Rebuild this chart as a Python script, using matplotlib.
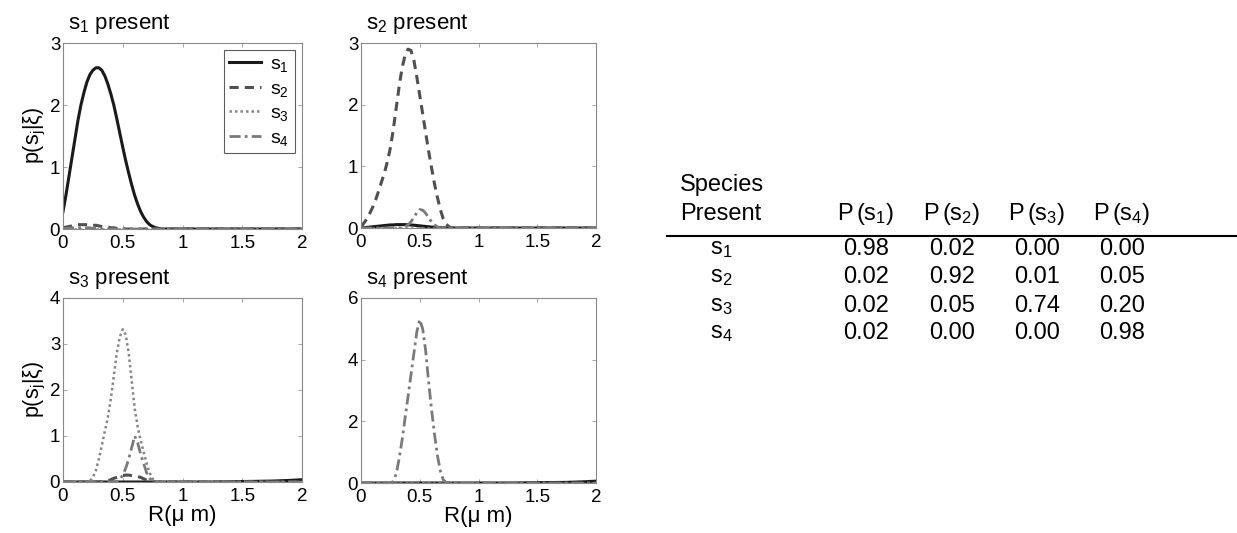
import matplotlib
matplotlib.use("Agg")
import matplotlib.pyplot as plt

plt.rcParams['font.family'] = ['Liberation Sans', 'DejaVu Sans']
plt.rcParams['mathtext.fontset'] = 'custom'
plt.rcParams['mathtext.rm'] = 'Liberation Sans'
plt.rcParams['mathtext.it'] = 'Liberation Sans:italic'

# radius grid (um): fine steps up to 1, coarse tail to 2
R = [round(0.025 * i, 3) for i in range(41)] + [1.25, 1.5, 1.75, 1.9, 2.0]

# s1 present
p1_s1 = [0.28, 0.55, 0.85, 1.15, 1.45, 1.75, 2.0, 2.2, 2.37, 2.49, 2.56, 2.6, 2.6,
         2.56, 2.47, 2.34, 2.18, 2.0, 1.78, 1.55, 1.32, 1.1, 0.9, 0.71, 0.54, 0.4,
         0.28, 0.19, 0.12, 0.07, 0.04, 0.02, 0.01] + [0.0] * 13
p1_s2 = [0.02, 0.03, 0.04, 0.05, 0.06, 0.07, 0.07, 0.07, 0.07, 0.07, 0.06, 0.06,
         0.05, 0.04, 0.03, 0.03, 0.02, 0.02, 0.01, 0.01, 0.01] + [0.0] * 25
p1_s3 = [0.0] * 46
p1_s4 = [0.0, 0.01, 0.01, 0.02, 0.02, 0.02, 0.02, 0.02, 0.02, 0.02, 0.01, 0.01,
         0.01] + [0.0] * 33

# s2 present
p2_s1 = [0.0, 0.005, 0.01, 0.015, 0.02, 0.025, 0.03, 0.035, 0.04, 0.045, 0.05, 0.05,
         0.055, 0.055, 0.055, 0.055, 0.05, 0.05, 0.045, 0.04, 0.035, 0.03, 0.025,
         0.02, 0.015, 0.01, 0.007, 0.004, 0.002] + [0.0] * 17
p2_s2 = [0.02, 0.08, 0.15, 0.24, 0.34, 0.46, 0.6, 0.75, 0.9, 1.08, 1.3, 1.6, 1.95,
         2.3, 2.6, 2.8, 2.9, 2.88, 2.72, 2.45, 2.15, 1.85, 1.55, 1.25, 0.98, 0.72,
         0.5, 0.3, 0.15, 0.06, 0.02, 0.0] + [0.0] * 14
p2_s3 = [0.0] * 46
p2_s4 = [0.0] * 14 + [0.0, 0.02, 0.05, 0.1, 0.17, 0.25, 0.3, 0.29, 0.24, 0.17, 0.1,
                      0.05, 0.02] + [0.0] * 19

# s3 present
p3_s1 = [0.0] * 41 + [0.0, 0.01, 0.02, 0.035, 0.05]
p3_s2 = [0.0] * 14 + [0.0, 0.02, 0.05, 0.08, 0.1, 0.12, 0.14, 0.15, 0.15, 0.14, 0.13,
                      0.12, 0.1, 0.07, 0.04, 0.02, 0.0] + [0.0] * 15
p3_s3 = [0.0] * 9 + [0.02, 0.1, 0.25, 0.5, 0.8, 1.1, 1.4, 1.8, 2.3, 2.8, 3.15, 3.32,
                     3.2, 2.8, 2.2, 1.6, 1.2, 0.9, 0.65, 0.4, 0.2, 0.07, 0.02,
                     0.0] + [0.0] * 13
p3_s4 = [0.0] * 18 + [0.0, 0.05, 0.15, 0.3, 0.5, 0.75, 1.0, 0.85, 0.6, 0.4, 0.2, 0.08,
                      0.02, 0.0] + [0.0] * 14

# s4 present
p4_s1 = [0.0] * 41 + [0.0, 0.01, 0.02, 0.04, 0.06]
p4_s2 = [0.0] * 46
p4_s3 = [0.0] * 46
p4_s4 = [0.0] * 10 + [0.0, 0.05, 0.3, 0.8, 1.4, 2.1, 2.8, 3.5, 4.2, 4.9, 5.3, 5.0,
                      4.3, 3.3, 2.4, 1.6, 0.9, 0.4, 0.1, 0.02, 0.0] + [0.0] * 15

panels = [
    ("s$_1$ present", [p1_s1, p1_s2, p1_s3, p1_s4], 3, [0, 1, 2, 3]),
    ("s$_2$ present", [p2_s1, p2_s2, p2_s3, p2_s4], 3, [0, 1, 2, 3]),
    ("s$_3$ present", [p3_s1, p3_s2, p3_s3, p3_s4], 4, [0, 1, 2, 3, 4]),
    ("s$_4$ present", [p4_s1, p4_s2, p4_s3, p4_s4], 6, [0, 2, 4, 6]),
]

# confusion table
species = ["s$_1$", "s$_2$", "s$_3$", "s$_4$"]
col_heads = ["P$\\,$(s$_1$)", "P$\\,$(s$_2$)", "P$\\,$(s$_3$)", "P$\\,$(s$_4$)"]
probs = [
    [0.98, 0.02, 0.00, 0.00],
    [0.02, 0.92, 0.01, 0.05],
    [0.02, 0.05, 0.74, 0.20],
    [0.02, 0.00, 0.00, 0.98],
]

styles = [
    dict(color='#1a1a1a', ls='-', lw=2.2),
    dict(color='#505050', ls=(0, (3, 2)), lw=2.2),
    dict(color='#858585', ls=(0, (1, 1.2)), lw=1.8),
    dict(color='#7a7a7a', ls=(0, (4, 1.5, 1, 1.5)), lw=2.0),
]
labels = ["s$_1$", "s$_2$", "s$_3$", "s$_4$"]

W, H = 1237, 533
fig = plt.figure(figsize=(W / 100, H / 100), dpi=100)

boxes = [(63, 43, 302, 229), (361, 43, 596, 228),
         (63, 298, 302, 482), (361, 298, 596, 483)]

for i, (title, curves, ymax, yt) in enumerate(panels):
    l, t, r, b = boxes[i]
    ax = fig.add_axes([l / W, 1 - b / H, (r - l) / W, (b - t) / H])
    for y, st, lab in zip(curves, styles, labels):
        ax.plot(R, y, label=lab, **st)
    ax.set_xlim(0, 2)
    ax.set_ylim(0, ymax)
    ax.set_xticks([0, 0.5, 1, 1.5, 2])
    ax.set_xticklabels(["0", "0.5", "1", "1.5", "2"])
    ax.set_yticks(yt)
    ax.tick_params(direction='in', top=True, right=True, labelsize=13.5,
                   length=3, width=0.6, color='#999999')
    ax.tick_params(axis='x', pad=4)
    ax.tick_params(axis='y', pad=2)
    for s in ax.spines.values():
        s.set_color('#888888')
        s.set_linewidth(0.8)
    ax.text(0.02, 1.04, title, transform=ax.transAxes, fontsize=16,
            ha='left', va='bottom')
    if i in (0, 2):
        ax.set_ylabel("p(s$_\\mathrm{j}$|ξ)", fontsize=15.5, labelpad=1)
    if i in (2, 3):
        ax.set_xlabel("R(μ m)", fontsize=16, labelpad=0)
    if i == 0:
        leg = ax.legend(loc='upper right', fontsize=14, handlelength=1.6,
                        borderaxespad=0.35, fancybox=False, labelspacing=0.3,
                        borderpad=0.3, handletextpad=0.5)
        leg.get_frame().set_edgecolor('#333333')
        leg.get_frame().set_linewidth(0.8)

# table drawn as figure text
col_x = [866, 952, 1037, 1122]
row_y = [249, 277, 306, 333]
fs = 17
fig.text(680 / W, 1 - 185 / H, "Species", fontsize=fs, ha='left', va='center')
fig.text(680 / W, 1 - 214 / H, "Present", fontsize=fs, ha='left', va='center')
for x, head in zip(col_x, col_heads):
    fig.text(x / W, 1 - 214 / H, head, fontsize=fs, ha='center', va='center')
fig.add_artist(plt.Line2D([667 / W, 1.0], [1 - 236 / H, 1 - 236 / H],
                          color='black', lw=1.5, transform=fig.transFigure))
for y, sp, row in zip(row_y, species, probs):
    fig.text(710 / W, 1 - y / H, sp, fontsize=fs, ha='left', va='center')
    for x, v in zip(col_x, row):
        fig.text(x / W, 1 - y / H, f"{v:.2f}", fontsize=fs, ha='center', va='center')

fig.savefig("out.png", dpi=100)
